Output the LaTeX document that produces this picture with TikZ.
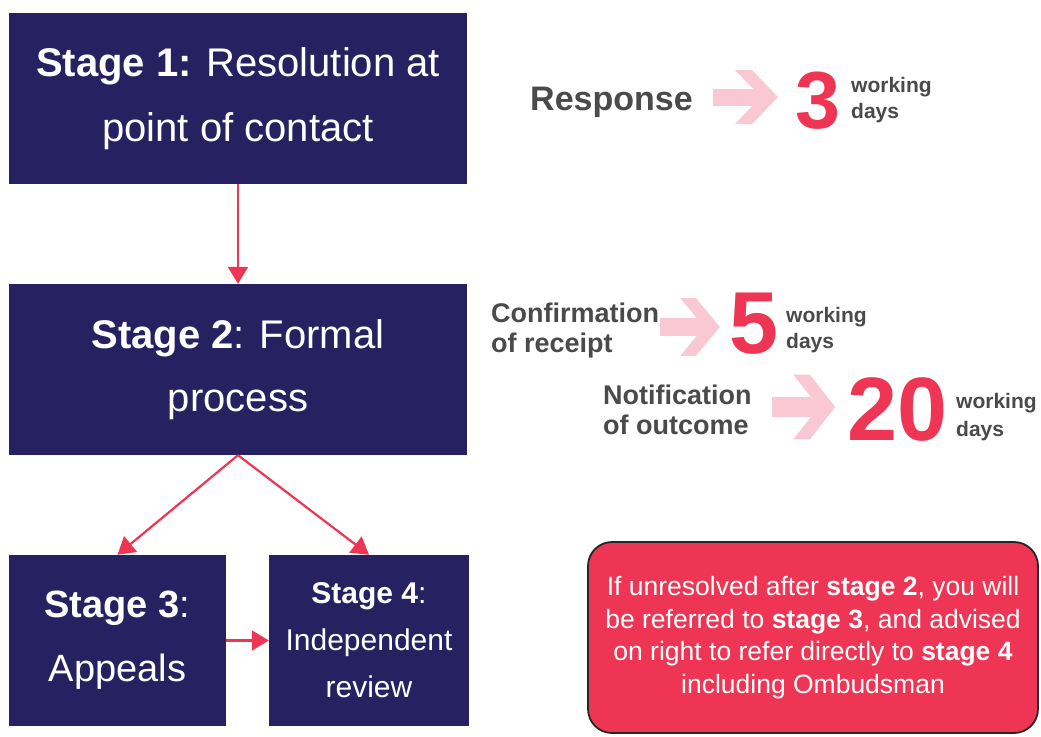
\documentclass[tikz,border=0pt]{standalone}
\usepackage{fontspec}
\setmainfont{Liberation Sans}
\usetikzlibrary{arrows.meta}
\definecolor{navy}{HTML}{262262}
\definecolor{alert}{HTML}{EE3553}
\definecolor{softpink}{HTML}{F9C8D2}
\definecolor{ink}{HTML}{4A4A4A}
\newcommand{\fs}[2]{\fontsize{#1}{#2}\selectfont}
\tikzset{
  stagebox/.style={fill=navy, text=white, inner sep=0pt, align=center},
  conn/.style={draw=alert, line width=2.2pt, -{Triangle[length=17pt,width=20pt]}},
  label/.style={text=ink, font=\bfseries, inner sep=0pt, anchor=base west},
  bignum/.style={text=alert, font=\bfseries, inner sep=0pt, anchor=base west},
  chev/.pic={
    \fill[softpink] (0,-8.5) rectangle (50,8.5);
    \fill[softpink] (22,-27) -- (39,-27) -- (65,0) -- (39,27) -- (22,27) -- (48,0) -- cycle;
  }
}
\begin{document}
\begin{tikzpicture}[x=1pt,y=-1pt]
\useasboundingbox (0,0) rectangle (1041,736);

% stage boxes
\node[stagebox, minimum width=458pt, minimum height=171pt, font=\fs{40}{65}] (s1) at (238,98.5)
  {\textbf{Stage 1:} Resolution at\\point of contact};
\node[stagebox, minimum width=458pt, minimum height=171pt, font=\fs{40}{63}] (s2) at (238,369.5)
  {\textbf{Stage 2}: Formal\\process};
\node[stagebox, minimum width=217pt, minimum height=171pt, font=\fs{38}{64}] (s3) at (117.5,640.5)
  {\textbf{Stage 3}:\\Appeals};
\node[stagebox, minimum width=200pt, minimum height=171pt, font=\fs{30}{47}] (s4) at (369,640.5)
  {\textbf{Stage 4}:\\Independent\\review};

% flow between stages
\draw[conn] (s1.south) -- (s2.north);
\draw[conn] (s2.south) -- (s3.north);
\draw[conn] (s2.south) -- (s4.north);
\draw[conn] (s3.east) -- (s4.west);

% response times
\node[label, font=\bfseries\fs{34}{34}] (resp) at (530,110) {Response};
\pic at (713,97) {chev};
\node[bignum, font=\bfseries\fs{81}{81}] (n3) at (795,128) {3};
\node[label, font=\bfseries\fs{21}{21}] (w3) at (851,92) {working};
\node[label, font=\bfseries\fs{21}{21}] (d3) at (851,118) {days};

\node[label, font=\bfseries\fs{27}{27}] (conf) at (491,322) {Confirmation};
\node[label, font=\bfseries\fs{27}{27}] (rec) at (491,352) {of receipt};
\pic[xscale=0.92, yscale=1.07] at (660,327) {chev};
\node[bignum, font=\bfseries\fs{88}{88}] (n5) at (729,353) {5};
\node[label, font=\bfseries\fs{21}{21}] (w5) at (786,322) {working};
\node[label, font=\bfseries\fs{21}{21}] (d5) at (786,348) {days};

\node[label, font=\bfseries\fs{27}{27}] (notif) at (603,404) {Notification};
\node[label, font=\bfseries\fs{27}{27}] (outc) at (603,434) {of outcome};
\pic[xscale=0.97, yscale=1.2] at (772,407) {chev};
\node[bignum, font=\bfseries\fs{90}{90}] (n20) at (847,440) {20};
\node[label, font=\bfseries\fs{21}{21}] (w20) at (956,408) {working};
\node[label, font=\bfseries\fs{21}{21}] (d20) at (956,436) {days};

% escalation note
\node[fill=alert, draw=black!85, line width=1.8pt, rounded corners=24pt,
      minimum width=450pt, minimum height=191pt, text=white, align=center,
      inner sep=0pt, font=\fs{26.5}{32.7}] (note) at (813,637.5)
  {If unresolved after \textbf{stage 2}, you will\\
   be referred to \textbf{stage 3}, and advised\\
   on right to refer directly to \textbf{stage 4}\\
   including Ombudsman};
\end{tikzpicture}
\end{document}
